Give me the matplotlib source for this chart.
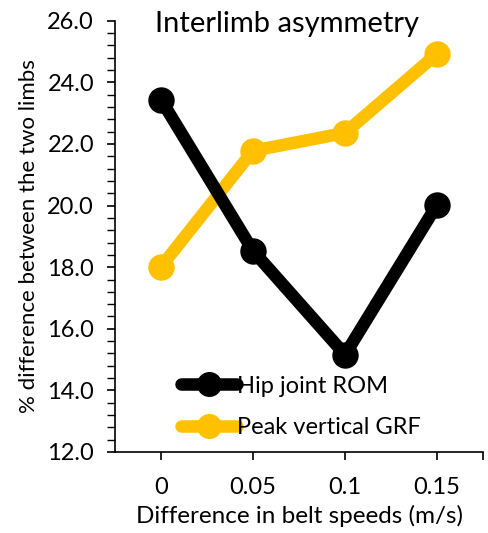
import matplotlib
matplotlib.use("Agg")
import matplotlib.pyplot as plt
from matplotlib.ticker import MultipleLocator, FormatStrFormatter

plt.rcParams['font.family'] = ['Lato', 'DejaVu Sans']

# Data
speed_labels = ["0", "0.05", "0.1", "0.15"]
hip_rom = [23.44, 18.53, 15.16, 20.03]
peak_grf = [18.01, 21.78, 22.36, 24.93]

fig = plt.figure(figsize=(4.89, 5.33), dpi=100)
ax = fig.add_axes([0.235, 0.152, 0.753, 0.809])

x = list(range(len(speed_labels)))
ax.plot(x, hip_rom, color="black", lw=9, marker="o", ms=18,
        solid_capstyle="round", label="Hip joint ROM", zorder=3)
ax.plot(x, peak_grf, color="#FFC000", lw=9, marker="o", ms=18,
        solid_capstyle="round", label="Peak vertical GRF", zorder=2)

ax.set_xlim(-0.5, 3.5)
ax.set_ylim(12, 26)
ax.set_xticks(x)
ax.set_xticklabels(speed_labels)
ax.set_xticks([3.5], minor=True)
ax.yaxis.set_major_locator(MultipleLocator(2))
ax.yaxis.set_minor_locator(MultipleLocator(0.4))
ax.yaxis.set_major_formatter(FormatStrFormatter("%.1f"))

for s in ["top", "right"]:
    ax.spines[s].set_visible(False)
for s in ["left", "bottom"]:
    ax.spines[s].set_linewidth(1.2)

ax.tick_params(axis="both", which="major", labelsize=17, length=6, width=1.2,
               direction="out")
ax.tick_params(axis="y", which="major", pad=9)
ax.tick_params(axis="x", which="major", pad=12)
ax.tick_params(axis="y", which="minor", length=6, width=1.0, direction="out")
ax.tick_params(axis="x", which="minor", length=6, width=1.2, direction="out")

ax.set_xlabel("Difference in belt speeds (m/s)", fontsize=17.5, labelpad=5)
ax.set_ylabel("% difference between the two limbs", fontsize=16, labelpad=6)
ax.text(0.468, 0.973, "Interlimb asymmetry", transform=ax.transAxes,
        ha="center", va="baseline", fontsize=21)

leg = ax.legend(loc="lower left", bbox_to_anchor=(0.14, 0.0), frameon=False,
                fontsize=17, handlelength=2.4, handletextpad=0.0,
                labelspacing=0.85, borderaxespad=0.2)
for h in leg.legend_handles:
    h.set_markersize(17)
    h.set_linewidth(9)

fig.savefig("out.png", dpi=100)
